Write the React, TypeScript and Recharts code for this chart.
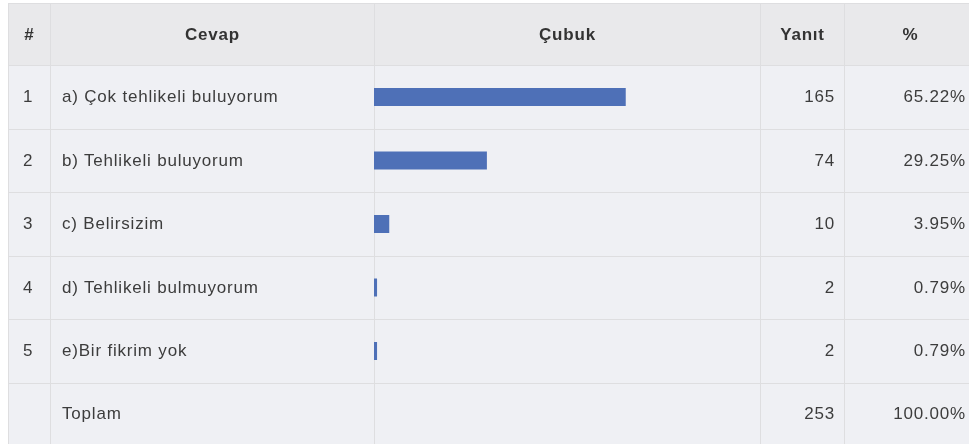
import React from 'react';
import { BarChart, Bar, XAxis, YAxis } from 'recharts';

const rowNumbers = ['1', '2', '3', '4', '5'];
const answers = [
  'a) Çok tehlikeli buluyorum',
  'b) Tehlikeli buluyorum',
  'c) Belirsizim',
  'd) Tehlikeli bulmuyorum',
  'e)Bir fikrim yok',
];
const counts = [165, 74, 10, 2, 2];
const percents = ['65.22%', '29.25%', '3.95%', '0.79%', '0.79%'];
const headers = ['#', 'Cevap', 'Çubuk', 'Yanıt', '%'];
const totalLabel = 'Toplam';
const totalCount = 253;
const totalPercent = '100.00%';

const COL_W = [42, 324, 386, 84, 132];
const HEADER_H = 62;
const ROW_H = 63.5;
const TOTAL_H = 61;
const LINE = '#dedee0';
const TEXT = '#3c3c3c';

const data = answers.map((a, i) => ({ name: a, value: counts[i] }));

const cellBase: React.CSSProperties = {
  boxSizing: 'border-box',
  borderRight: `1px solid ${LINE}`,
  borderBottom: `1px solid ${LINE}`,
  display: 'flex',
  alignItems: 'center',
  fontFamily: '"Liberation Sans", Arial, sans-serif',
  fontSize: 17,
  letterSpacing: 0.8,
  color: TEXT,
  whiteSpace: 'nowrap',
};

const Cell = ({ children, align, pad, bg }: { children?: React.ReactNode; align: 'left' | 'center' | 'right'; pad?: number; bg: string }) => (
  <div
    style={{
      ...cellBase,
      background: bg,
      justifyContent: align === 'left' ? 'flex-start' : align === 'right' ? 'flex-end' : 'center',
      paddingLeft: align === 'left' ? pad : 0,
      paddingRight: align === 'right' ? pad : 0,
    }}
  >
    {children}
  </div>
);

export default function App() {
  const bodyBg = '#eff0f4';
  const headBg = '#e9e9eb';
  return (
    <div style={{ position: 'fixed', left: 8, top: 3, width: 961, height: 441, overflow: 'hidden' }}>
      <div
        style={{
          display: 'grid',
          width: COL_W.reduce((s, w) => s + w, 0),
          gridTemplateColumns: COL_W.map((w) => `${w}px`).join(' '),
          gridTemplateRows: `${HEADER_H}px repeat(5, ${ROW_H}px) ${TOTAL_H}px`,
          borderTop: `1px solid ${LINE}`,
          borderLeft: `1px solid ${LINE}`,
          boxSizing: 'border-box',
        }}
      >
        {headers.map((h) => (
          <div key={h} style={{ ...cellBase, background: headBg, justifyContent: 'center', fontWeight: 'bold', color: '#333' }}>
            {h}
          </div>
        ))}
        {answers.map((a, i) => (
          <React.Fragment key={a}>
            <Cell align="left" pad={14} bg={bodyBg}>{rowNumbers[i]}</Cell>
            <Cell align="left" pad={11} bg={bodyBg}>{a}</Cell>
            <Cell align="center" bg={bodyBg} />
            <Cell align="right" pad={9} bg={bodyBg}>{counts[i]}</Cell>
            <Cell align="right" pad={10} bg={bodyBg}>{percents[i]}</Cell>
          </React.Fragment>
        ))}
        <Cell align="left" pad={14} bg={bodyBg} />
        <Cell align="left" pad={11} bg={bodyBg}>{totalLabel}</Cell>
        <Cell align="center" bg={bodyBg} />
        <Cell align="right" pad={9} bg={bodyBg}>{totalCount}</Cell>
        <Cell align="right" pad={10} bg={bodyBg}>{totalPercent}</Cell>
      </div>
      <div style={{ position: 'absolute', left: COL_W[0] + COL_W[1], top: HEADER_H }}>
        <BarChart
          layout="vertical"
          width={COL_W[2]}
          height={ROW_H * 5}
          data={data}
          margin={{ top: 0, right: 0, bottom: 0, left: 0 }}
          barCategoryGap={0}
        >
          <XAxis type="number" domain={[0, totalCount]} hide />
          <YAxis type="category" dataKey="name" hide />
          <Bar dataKey="value" fill="#4e70b7" barSize={18} isAnimationActive={false} />
        </BarChart>
      </div>
    </div>
  );
}
